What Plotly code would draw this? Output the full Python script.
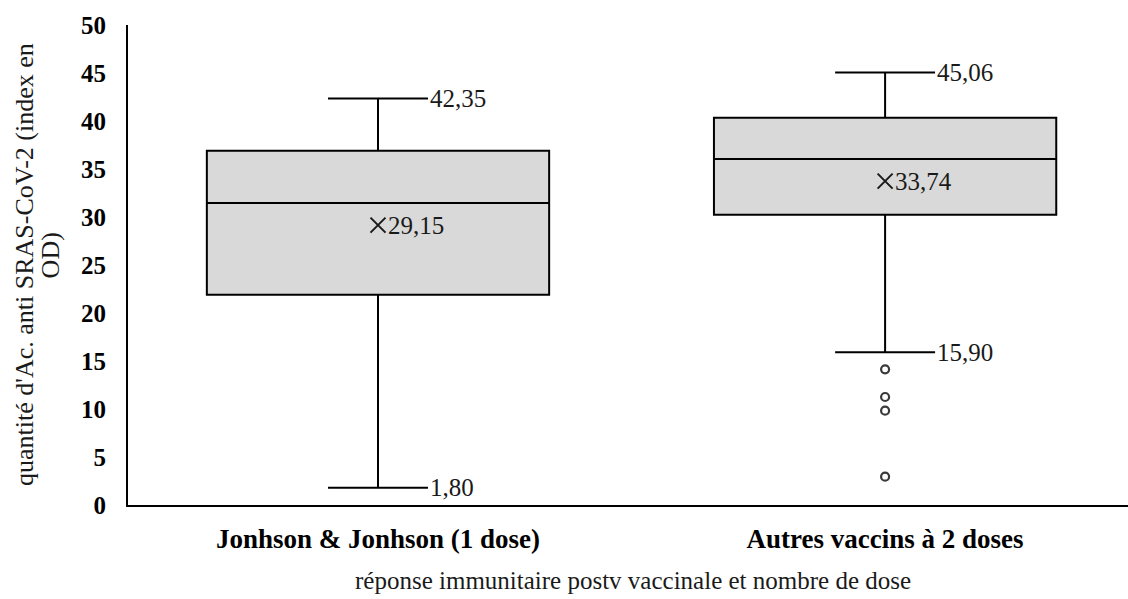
import plotly.graph_objects as go

# Vaccine groups and their box-plot statistics (antibody index, OD)
groups = ["Jonhson & Jonhson (1 dose)", "Autres vaccins à 2 doses"]
lower = [1.80, 15.90]
q1 = [21.9, 30.24]
median = [31.45, 36.04]
q3 = [36.9, 40.35]
upper = [42.35, 45.06]
mean = [29.15, 33.74]
# outliers below the lower whisker for the second group
outliers_group2 = [14.13, 11.25, 9.83, 2.95]

y_ticks = [0, 5, 10, 15, 20, 25, 30, 35, 40, 45, 50]

FONT = "Liberation Serif"
TXT = "#1a1a1a"
pos = [0, 1]
box_width = 0.675
whisker_ratio = 0.292
cap_half = box_width * whisker_ratio / 2

fig = go.Figure()

fig.add_trace(go.Box(
    x=pos,
    q1=q1, median=median, q3=q3,
    lowerfence=lower, upperfence=upper,
    width=box_width,
    whiskerwidth=whisker_ratio,
    fillcolor="#d9d9d9",
    line=dict(color="black", width=2),
    boxpoints=False,
    hoverinfo="skip",
    showlegend=False,
))

# outlier points
fig.add_trace(go.Scatter(
    x=[pos[1]] * len(outliers_group2),
    y=outliers_group2,
    mode="markers",
    marker=dict(symbol="circle-open", size=8, color="#3a3a3a",
                line=dict(width=2.2, color="#3a3a3a")),
    showlegend=False,
    hoverinfo="skip",
))

# mean markers
fig.add_trace(go.Scatter(
    x=pos, y=mean,
    mode="markers",
    marker=dict(symbol="x-thin-open", size=15, color="#1a1a1a",
                line=dict(width=2, color="#1a1a1a")),
    showlegend=False,
    hoverinfo="skip",
))


def fmt(v):
    return f"{v:.2f}".replace(".", ",")


annotations = []
# whisker end labels
whisker_labels = [(0, upper[0]), (0, lower[0]), (1, upper[1]), (1, lower[1])]
for i, v in whisker_labels:
    annotations.append(dict(
        x=pos[i] + cap_half, y=v, xref="x", yref="y",
        text=fmt(v), showarrow=False, xanchor="left", yanchor="middle",
        xshift=0, font=dict(family=FONT, size=25, color=TXT),
    ))
# mean labels
for i, v in enumerate(mean):
    annotations.append(dict(
        x=pos[i], y=v, xref="x", yref="y",
        text=fmt(v), showarrow=False, xanchor="left", yanchor="middle",
        xshift=8, font=dict(family=FONT, size=25, color=TXT),
    ))
# y-axis title, two lines
annotations.append(dict(
    x=-0.104, y=0.5, xref="paper", yref="paper",
    text="quantité d'Ac. anti SRAS-CoV-2 (index en",
    textangle=-90, showarrow=False, xanchor="center", yanchor="middle",
    font=dict(family=FONT, size=26, color=TXT),
))
annotations.append(dict(
    x=-0.078, y=0.52, xref="paper", yref="paper",
    text="OD)",
    textangle=-90, showarrow=False, xanchor="center", yanchor="middle",
    font=dict(family=FONT, size=26, color=TXT),
))
# x-axis title
annotations.append(dict(
    x=0.505, y=-0.157, xref="paper", yref="paper",
    text="réponse immunitaire postv vaccinale et nombre de dose",
    showarrow=False, xanchor="center", yanchor="middle",
    font=dict(family=FONT, size=25, color=TXT),
))

fig.update_layout(
    width=1128, height=599,
    margin=dict(l=128, r=0, t=25, b=94),
    paper_bgcolor="white", plot_bgcolor="white",
    annotations=annotations,
    xaxis=dict(
        range=[-0.493, 1.479],
        tickvals=pos, ticktext=groups,
        tickfont=dict(family=FONT, size=27, color="black", weight="bold"),
        showgrid=False, zeroline=False,
        showline=True, linecolor="black", linewidth=2,
        ticks="", ticklabelstandoff=9,
    ),
    yaxis=dict(
        range=[0, 50],
        tickvals=y_ticks,
        tickfont=dict(family=FONT, size=25, color="black", weight="bold"),
        showgrid=False, zeroline=False,
        showline=True, linecolor="black", linewidth=2,
        ticks="", ticklabelstandoff=15,
    ),
)

fig.write_html("out.html")
